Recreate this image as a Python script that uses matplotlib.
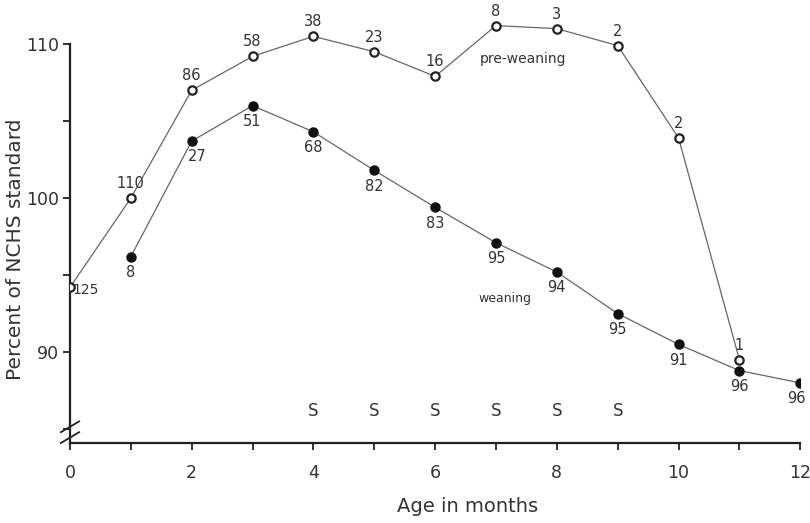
import numpy as np
import matplotlib.pyplot as plt

# values
months = np.arange(0, 13)
pre_x = months[:12]
pre_pct = [94.2, 100.0, 107.0, 109.2, 110.5, 109.5, 107.9, 111.2, 111.0, 109.9, 103.9, 89.5]
pre_n = ['125', '110', '86', '58', '38', '23', '16', '8', '3', '2', '2', '1']
wean_x = months[1:]
wean_pct = [96.2, 103.7, 106.0, 104.3, 101.8, 99.4, 97.1, 95.2, 92.5, 90.5, 88.8, 88.0]
wean_n = ['8', '27', '51', '68', '82', '83', '95', '94', '95', '91', '96', '96']
sig_x = [4, 5, 6, 7, 8, 9]

ink = '#333333'
plt.rcParams['font.family'] = ['DejaVu Sans']

fig = plt.figure(figsize=(8.1, 5.23), dpi=100)
ax = fig.add_axes([0.0864, 0.153, 0.9016, 0.847])

ax.plot(pre_x, pre_pct, color='#666666', lw=0.9, marker='o', ms=6,
        mfc='white', mec='#222222', mew=1.6, zorder=3)
ax.plot(wean_x, wean_pct, color='#666666', lw=0.9, marker='o', ms=6.5,
        mfc='#111111', mec='#111111', zorder=3)

for i, (x, y, t) in enumerate(zip(pre_x, pre_pct, pre_n)):
    if i == 0:
        ax.annotate(t, (x, y), xytext=(2, -2), textcoords='offset points',
                    ha='left', va='center', fontsize=10, color=ink)
    else:
        ax.annotate(t, (x, y), xytext=(0, 5), textcoords='offset points',
                    ha='center', va='bottom', fontsize=10.5, color=ink)

for i, (x, y, t) in enumerate(zip(wean_x, wean_pct, wean_n)):
    dx = 0
    if t == '27':
        dx = 4
    if i == len(wean_n) - 1:
        dx = -3
    ax.annotate(t, (x, y), xytext=(dx, -6), textcoords='offset points',
                ha='center', va='top', fontsize=10.5, color=ink)

ax.text(6.74, 109.0, 'pre-weaning', fontsize=10, color=ink, ha='left', va='center')
ax.text(7.15, 93.5, 'weaning', fontsize=9, color=ink, ha='center', va='center')

for x in sig_x:
    ax.text(x, 86.2, 'S', fontsize=12, color=ink, ha='center', va='center')

ax.set_xlim(0, 12)
ax.set_ylim(84.1, 112.86)
for s in ['top', 'right']:
    ax.spines[s].set_visible(False)
ax.spines['left'].set_bounds(84.1, 110)
ax.spines['left'].set_color('#222222')
ax.spines['bottom'].set_color('#222222')
ax.spines['left'].set_linewidth(1.6)
ax.spines['bottom'].set_linewidth(1.6)

ax.set_xticks(months, minor=True)
ax.set_xticks(np.arange(0, 13, 2))
ax.set_yticks([90, 100, 110])
ax.set_yticks([85, 95, 105], minor=True)
ax.tick_params(which='both', direction='out', length=5, width=1.3, colors='#222222',
               labelsize=12.5, labelcolor=ink)
ax.tick_params(axis='x', pad=10)
ax.tick_params(axis='y', pad=3)

# axis break marks
for dy in (-0.35, 0.35):
    ax.plot([-0.15, 0.15], [84.8 + dy - 0.35, 84.8 + dy + 0.35], color='#222222',
            lw=1.3, clip_on=False)

ax.set_xlabel('Age in months', fontsize=14, color=ink)
ax.xaxis.set_label_coords(0.544, -0.122)
ax.set_ylabel('Percent of NCHS standard', fontsize=14.5, color=ink)
ax.yaxis.set_label_coords(-0.0616, 0.438)

fig.savefig('out.png', dpi=100)
